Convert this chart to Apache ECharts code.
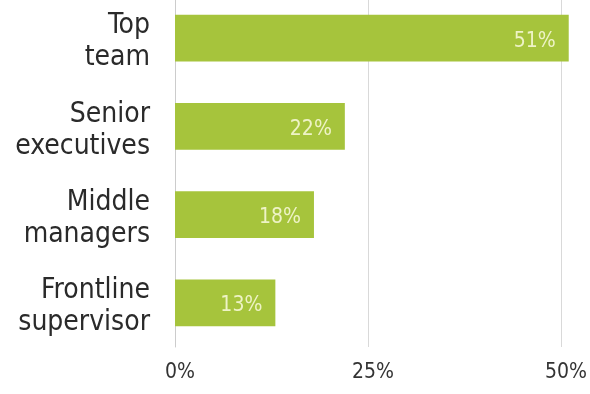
<!DOCTYPE html>
<html><head><meta charset="utf-8">
<script src="https://cdn.jsdelivr.net/npm/echarts@6/dist/echarts.min.js"></script>
<style>html,body{margin:0;padding:0;background:#fff;overflow:hidden}#c{position:absolute;left:0;top:-6px;width:590px;height:400px}</style>
</head><body><div id="c"></div>
<script>
var categories = ['Top\nteam', 'Senior\nexecutives', 'Middle\nmanagers', 'Frontline\nsupervisor'];
var values = [51, 22, 18, 13];
var tickValues = [0, 25, 50];

var chart = echarts.init(document.getElementById('c'));
var font = '"DejaVu Sans Condensed", "Liberation Sans Narrow", sans-serif';
chart.setOption({
  animation: false,
  grid: {left: 175, right: 28, top: 0, bottom: 47, containLabel: false},
  xAxis: {
    type: 'value', min: 0, max: 50, interval: 25,
    axisLine: {show: false}, axisTick: {show: false},
    splitLine: {lineStyle: {color: '#d9d9d9', width: 1}},
    axisLabel: {
      color: '#333', fontSize: 21, fontFamily: font, margin: 15, padding: [0, 0, 0, 10],
      formatter: function (v) { return tickValues.indexOf(v) >= 0 ? v + '%' : ''; }
    }
  },
  yAxis: {
    type: 'category', data: categories, inverse: true,
    axisLine: {show: true, lineStyle: {color: '#cccccc'}}, axisTick: {show: false},
    axisLabel: {
      color: '#2a2a2a', fontSize: 28, lineHeight: 32, fontFamily: font, margin: 25, align: 'right',
      formatter: function (v) {
        return '{sp| }\n' + v.split('\n').map(function (s) { return '{a|' + s + '}'; }).join('\n');
      },
      rich: {
        sp: {fontSize: 6, lineHeight: 8},
        a: {color: '#2a2a2a', fontSize: 28, lineHeight: 32, fontFamily: font, align: 'right'}
      }
    }
  },
  series: [{
    type: 'bar', data: values, barWidth: '53%', clip: false,
    itemStyle: {color: '#a6c43c'},
    label: {
      show: true, position: 'insideRight', distance: 13, color: '#eef3c6',
      fontSize: 21, fontFamily: font, formatter: '{c}%', offset: [0, 3]
    }
  }]
});
</script></body></html>
